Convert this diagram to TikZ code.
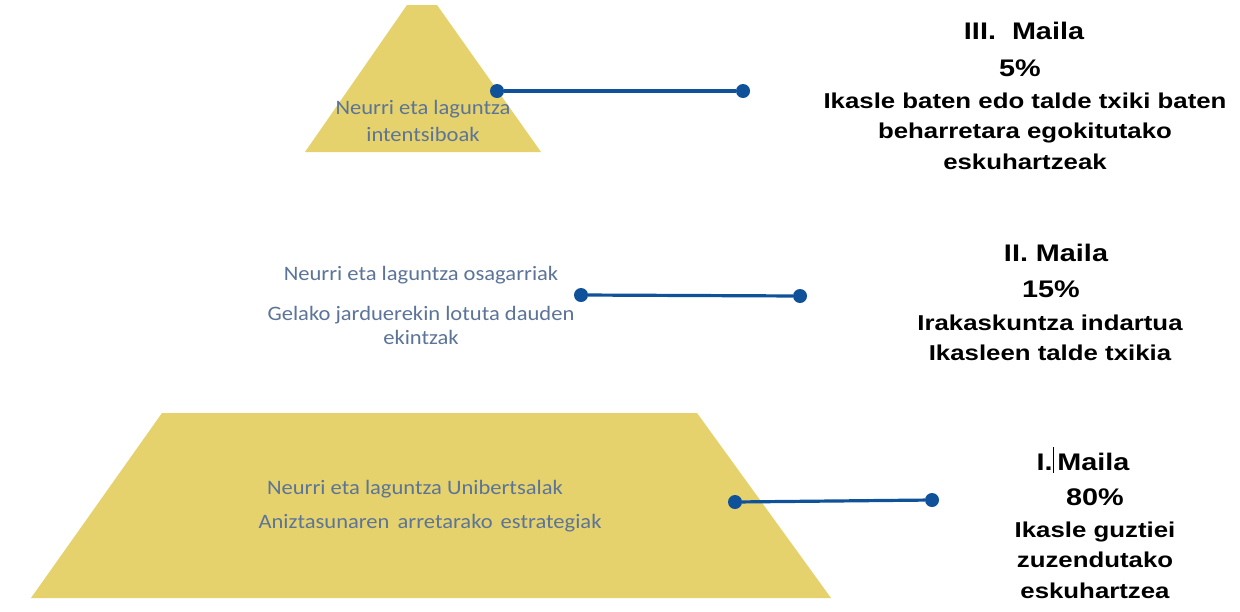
\documentclass[tikz,border=0pt]{standalone}
\usepackage{fontspec}
\setmainfont{Liberation Sans}[FakeStretch=1.2]
\newfontfamily\calib{Carlito}[FakeStretch=1.1]
\definecolor{pyell}{RGB}{229,210,108}
\definecolor{ptxt}{RGB}{92,116,152}
\definecolor{pblue}{RGB}{16,82,154}
\begin{document}
\begin{tikzpicture}[x=1pt,y=-1pt,
  inner/.style={font=\calib\fontsize{20.5}{27}\selectfont, text=ptxt, align=center, inner sep=0pt},
  head/.style={font=\bfseries\fontsize{24}{28}\selectfont, align=center, inner sep=0pt},
  desc/.style={font=\bfseries\fontsize{21.5}{30.5}\selectfont, align=center, inner sep=0pt},
  dotn/.style={circle, fill=pblue, inner sep=0pt, minimum size=14pt},
  conn/.style={draw=pblue, line width=3.2pt}]
\useasboundingbox (0,0) rectangle (1240,611);
\fill[white] (0,0) rectangle (1240,611);
% shapes
\fill[pyell] (305,152) -- (407,5) -- (437,5) -- (541,152) -- cycle;
\fill[pyell] (31,598) -- (162,413) -- (697,413) -- (831,598) -- cycle;
% inner texts
\node[inner] (t3) at (423,121) {Neurri eta laguntza\\intentsiboak};
\node[inner] (t2a) at (421,275) {Neurri eta laguntza osagarriak};
\node[inner, font=\calib\fontsize{20.5}{24}\selectfont] (t2b) at (421,325) {Gelako jarduerekin\ lotuta dauden\\ekintzak};
\node[inner] (t1a) at (415,489) {Neurri eta laguntza Unibertsalak};
\node[inner] (t1b) at (430,523) {Aniztasunaren\hspace{3pt} arretarako\hspace{3pt} estrategiak};
% connectors
\node[dotn] (d3a) at (497,91) {};
\node[dotn] (d3b) at (743,91) {};
\draw[conn] (d3a) -- (d3b);
\node[dotn] (d2a) at (581,295) {};
\node[dotn] (d2b) at (800,296) {};
\draw[conn] (d2a) -- (d2b);
\node[dotn] (d1a) at (735,502) {};
\node[dotn] (d1b) at (932,500) {};
\draw[conn] (d1a) -- (d1b);
% right labels
\node[head] (h3) at (1024,31) {III.\ \ Maila};
\node[head] (p3) at (1020,68) {5\%};
\node[desc] (x3) at (1025,131) {Ikasle baten edo talde txiki baten\\beharretara egokitutako\\eskuhartzeak};
\node[head] (h2) at (1056,253) {II. Maila};
\node[head] (p2) at (1051,289) {15\%};
\node[desc] (x2) at (1050,338) {Irakaskuntza indartua\\Ikasleen talde txikia};
\node[head] (h1) at (1083,460) {I.\rule[-3pt]{0.7pt}{26pt}\,Maila};
\node[head] (p1) at (1095,497) {80\%};
\node[desc] (x1) at (1095,560) {Ikasle guztiei\\zuzendutako\\eskuhartzea};
\end{tikzpicture}
\end{document}
